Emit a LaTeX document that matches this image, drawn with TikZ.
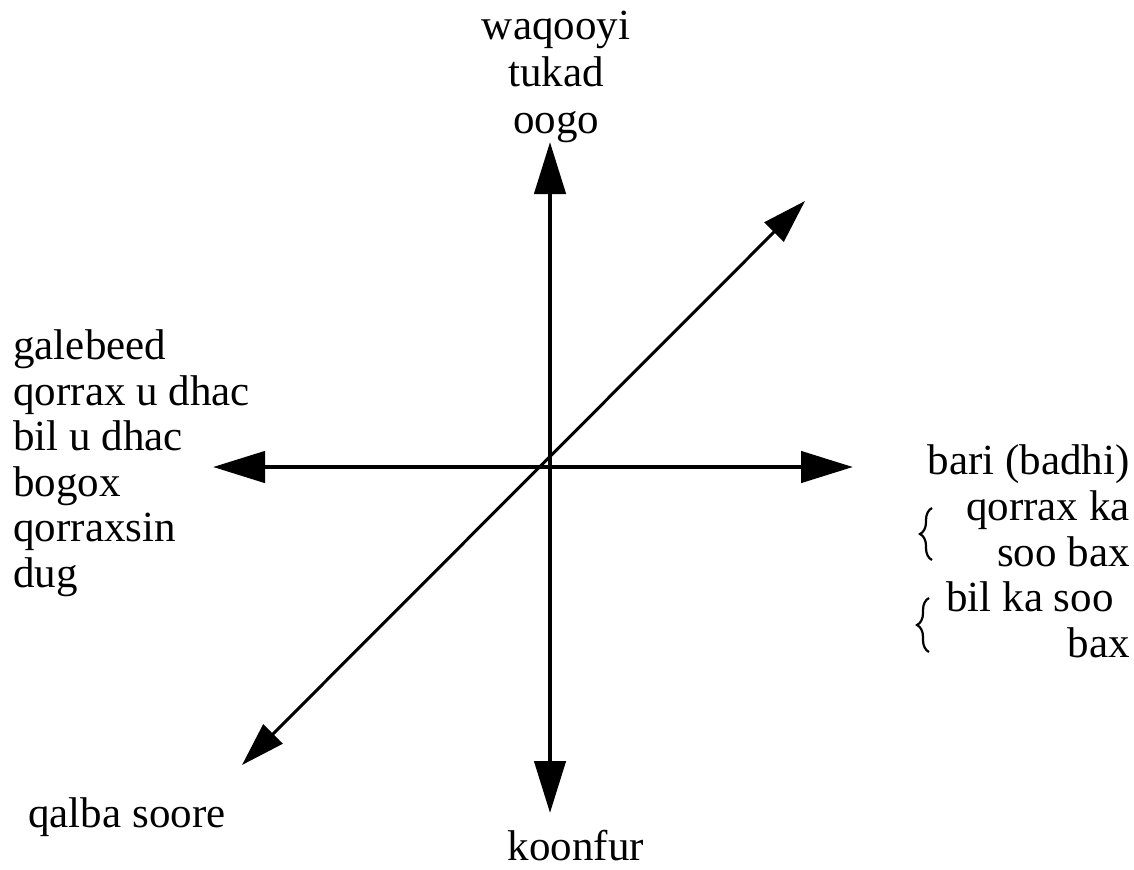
\documentclass[tikz,border=0pt]{standalone}
\usepackage{fontspec}
\setmainfont{Liberation Serif}
\usetikzlibrary{arrows.meta,decorations.pathreplacing}
\tikzset{
  axis/.style={line width=2.3pt,<->},
  diag/.style={line width=1.5pt,{Triangle[length=22pt,width=13.5pt]}-{Triangle[length=22pt,width=13.5pt]}},
  lbl/.style={inner sep=0pt,font=\fontsize{21.5}{25}\selectfont},
  brc/.style={decorate,decoration={brace,amplitude=6pt},line width=1.1pt}
}
\begin{document}
\begin{tikzpicture}[x=0.5pt,y=-0.5pt,>={Triangle[length=26pt,width=15.5pt]}]
\useasboundingbox (0,0) rectangle (1134,869);
% axis ends
\coordinate (north) at (550,142);
\coordinate (south) at (550,813);
\coordinate (west) at (213,467);
\coordinate (east) at (853,467);
\coordinate (ne) at (805,201);
\coordinate (sw) at (242,765);
\draw[axis] (west)--(east);
\draw[axis] (south)--(north);
\draw[diag] (sw)--(ne);
% top
\node[lbl,anchor=base] (waqooyi) at (556,39) {waqooyi};
\node[lbl,anchor=base] (tukad) at (556,86) {tukad};
\node[lbl,anchor=base] (oogo) at (556,133) {oogo};
% bottom
\node[lbl,anchor=base] (koonfur) at (576,860) {koonfur};
\node[lbl,anchor=base west] (qalba) at (28,827) {qalba soore};
% left
\node[lbl,anchor=base west] (galebeed) at (13,359) {galebeed};
\node[lbl,anchor=base west] (qorraxud) at (13,405) {qorrax u dhac};
\node[lbl,anchor=base west] (bilud) at (13,450) {bil u dhac};
\node[lbl,anchor=base west] (bogox) at (13,496) {bogox};
\node[lbl,anchor=base west] (qorraxsin) at (13,541) {qorraxsin};
\node[lbl,anchor=base west] (dug) at (13,587) {dug};
% right
\node[lbl,anchor=base east] (bari) at (1130,474) {bari (badhi)};
\node[lbl,anchor=base east] (qorraxka) at (1130,520) {qorrax ka};
\node[lbl,anchor=base east] (soobax) at (1130,566) {soo bax};
\node[lbl,anchor=base east] (bilka) at (1114,611) {bil ka soo};
\node[lbl,anchor=base east] (bax) at (1130,657) {bax};
\draw[brc] (932,560)--(932,508);
\draw[brc] (929,652)--(929,598);
\end{tikzpicture}
\end{document}
